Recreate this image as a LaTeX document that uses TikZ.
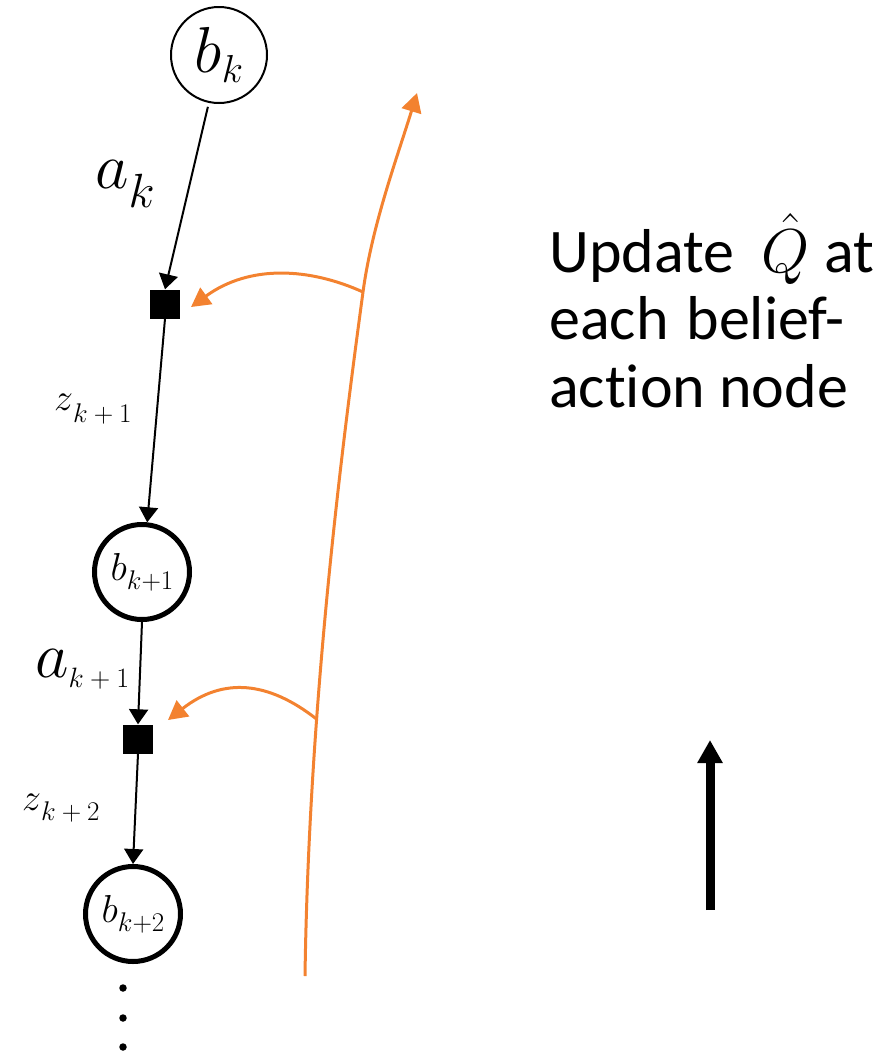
\RequirePackage{fix-cm}
\documentclass[tikz,border=0pt]{standalone}
\usepackage{fontspec}
\newfontfamily\calib[Ligatures=NoCommon]{Carlito}
\usetikzlibrary{arrows.meta}
\definecolor{flow}{RGB}{243,130,48}
% main symbol, its size, subscript, subscript size, subscript drop
\newcommand\lbl[5]{{\fontsize{#2}{#2}\selectfont$#1$}\raisebox{-#5}{\fontsize{#4}{#4}\selectfont$#3$}}

\begin{document}
\begin{tikzpicture}[x=1pt,y=-1pt,
  root/.style={circle, draw, inner sep=0pt, minimum size=96pt, line width=2pt},
  belief/.style={circle, draw, inner sep=0pt, minimum size=95pt, line width=5pt},
  act/.style={rectangle, fill=black, inner sep=0pt, minimum width=30pt, minimum height=29pt},
  edge/.style={line width=2pt, -{Triangle[length=15pt,width=19pt]}},
  upd/.style={draw=flow, line width=3pt, -{Triangle[length=19pt,width=20pt]}},
  lab/.style={anchor=base west, inner sep=0pt},
  dot/.style={circle, fill=black, inner sep=0pt, minimum size=7.5pt},
]
\useasboundingbox (0,0) rectangle (886,1053);

% belief / action chain
\node[root]   (bk) at (219,55)  {\lbl{b}{65}{k}{39}{10pt}};
\node[act]    (s1) at (165,304) {};
\node[belief] (b1) at (142,572) {\lbl{b}{39}{k{+}1}{27}{9pt}};
\node[act]    (s2) at (138,739) {};
\node[belief] (b2) at (133,914) {\lbl{b}{39}{k{+}2}{27}{9pt}};

\node[dot] (d1) at (123,988) {};
\node[dot] (d2) at (123,1018) {};
\node[dot] (d3) at (123,1047) {};

\draw[edge, shorten <=4pt] (bk.258) -- (s1.north);
\draw[edge] (s1.south) -- (b1.84);
\draw[edge] (b1.south) -- (s2.north);
\draw[edge] (s2.south) -- (b2.north);

% edge labels
\node[lab] (lak)  at (95,188)  {\lbl{a}{65}{k}{48}{19pt}};
\node[lab] (lz1)  at (54,410)  {\lbl{z}{38}{k+1}{27}{12pt}};
\node[lab] (la1)  at (35,677)  {\lbl{a}{65}{k+1}{28}{10pt}};
\node[lab] (lz2)  at (22,810)  {\lbl{z}{38}{k+2}{27}{10pt}};

% backup sweep, bending more towards the top
\coordinate (c0) at (305,976);
\coordinate (j1) at (363,292);
\coordinate (c5) at (417,93);
\draw[upd] (c0) .. controls (309,700) and (343,440) .. coordinate[pos=0.32] (j2) (j1)
  .. controls (372,225) and (398,155) .. (c5);

\coordinate (t1) at (191,307);
\coordinate (t2) at (168,720);
\draw[upd] (j1) .. controls (310,268) and (250,264) .. (t1);
\draw[upd] (j2) .. controls (268,681) and (223,677) .. (t2);

% caption and direction arrow
\node[anchor=base west, align=left, inner sep=0pt,
      font=\calib\fontsize{62}{67.5}\selectfont] (note) at (549,407)
  {Update\hspace{13pt} $\hat{Q}$\hspace{1pt} at\\each\hspace{4pt} belief-\\action node};

\coordinate (up0) at (710,910);
\coordinate (up1) at (710,740);
\draw[line width=9pt, -{Triangle[length=23pt,width=24pt]}] (up0) -- (up1);
\end{tikzpicture}
\end{document}
